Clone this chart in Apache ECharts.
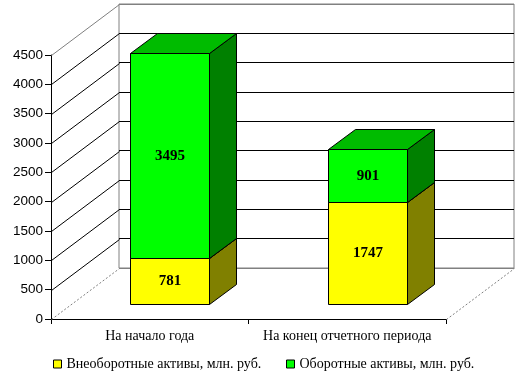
<!DOCTYPE html>
<html><head><meta charset="utf-8">
<script src="https://cdn.jsdelivr.net/npm/echarts@6/dist/echarts.min.js"></script>
<style>html,body{margin:0;padding:0;background:#fff}#c{width:523px;height:378px}</style>
</head><body><div id="c"></div>
<script>
const categories = ['На начало года', 'На конец отчетного периода'];
const seriesNames = ['Внеоборотные активы, млн. руб.', 'Оборотные активы, млн. руб.'];
const nonCurrent = [781, 1747];
const current = [3495, 901];
const yMin = 0, yMax = 4500, yStep = 500;
const yTicks = [0, 500, 1000, 1500, 2000, 2500, 3000, 3500, 4000, 4500];

// 3D geometry (pixels)
const DEPTH_X = 68, DEPTH_Y = 51;   // wall depth
const FRONT_X = 20, FRONT_Y = 15;   // bar front face offset from front plane
const BAR_DX = 27, BAR_DY = 20;     // bar depth
const SERIF = "'Liberation Serif','Times New Roman',serif";
const SANS = "'Liberation Sans',Arial,sans-serif";

const chart = echarts.init(document.getElementById('c'), null, {renderer: 'canvas'});

function r(v) { return Math.round(v) + 0.5; }

function barRenderer(face, side, top) {
  return function (params, api) {
    const i = api.value(0), base = api.value(1), v = api.value(2);
    const p0 = api.coord([i, base]);
    const p1 = api.coord([i, base + v]);
    const bw = api.size([1, 0])[0] * 0.4;
    const cx = p0[0] + FRONT_X;
    const yb = r(p0[1] - FRONT_Y), yt = r(p1[1] - FRONT_Y);
    const x0 = r(cx - bw / 2), x1 = r(cx + bw / 2);
    const st = {stroke: '#000', lineWidth: 1};
    return {
      type: 'group',
      children: [
        {type: 'polygon', shape: {points: [[x1, yb], [x1 + BAR_DX, yb - BAR_DY], [x1 + BAR_DX, yt - BAR_DY], [x1, yt]]},
         style: Object.assign({fill: side}, st)},
        {type: 'polygon', shape: {points: [[x0, yt], [x1, yt], [x1 + BAR_DX, yt - BAR_DY], [x0 + BAR_DX, yt - BAR_DY]]},
         style: Object.assign({fill: top}, st)},
        {type: 'rect', shape: {x: x0, y: yt, width: x1 - x0, height: yb - yt},
         style: Object.assign({fill: face}, st)},
        {type: 'text', x: (x0 + x1) / 2, y: (yt + yb) / 2,
         style: {text: String(v), fill: '#000', font: "bold 15px " + SERIF, align: 'center', verticalAlign: 'middle'}}
      ]
    };
  };
}

function wallRenderer(params, api) {
  const v = api.value(1);
  const cs = params.coordSys;
  const y = r(api.coord([0, v])[1]);
  const x = r(cs.x);
  let style;
  if (v === yMin) style = {stroke: '#808080', lineWidth: 1, lineDash: [2, 2]};
  else if (v === yMax) style = {stroke: '#808080', lineWidth: 1};
  else style = {stroke: '#000', lineWidth: 1};
  const children = [{type: 'line', shape: {x1: x, y1: y, x2: x + DEPTH_X, y2: y - DEPTH_Y}, style: style}];
  if (v === yMin) {
    const xr = r(cs.x + cs.width);
    children.push({type: 'line', shape: {x1: xr, y1: y, x2: xr + DEPTH_X, y2: y - DEPTH_Y}, style: style});
  }
  return {type: 'group', children: children};
}

const splitColors = yTicks.map((t) => (t === yMin || t === yMax) ? '#808080' : '#000000');

chart.setOption({
  backgroundColor: '#ffffff',
  animation: false,
  grid: [
    {left: 51, top: 55, width: 395, height: 264, show: false},
    {left: 51 + DEPTH_X, top: 55 - DEPTH_Y, width: 395, height: 264, show: true,
     borderColor: '#808080', borderWidth: 1, backgroundColor: 'transparent'}
  ],
  xAxis: [
    {type: 'category', gridIndex: 0, data: categories, boundaryGap: true,
     axisLine: {show: true, lineStyle: {color: '#000', width: 1}},
     axisTick: {show: true, length: 5, lineStyle: {color: '#000'}},
     axisLabel: {color: '#000', fontFamily: SERIF, fontSize: 14, margin: 10, interval: 0},
     splitLine: {show: false}},
    {type: 'value', gridIndex: 1, show: true, min: 0, max: 1,
     axisLine: {show: false}, axisTick: {show: false}, axisLabel: {show: false}, splitLine: {show: false}}
  ],
  yAxis: [
    {type: 'value', gridIndex: 0, min: yMin, max: yMax, interval: yStep,
     axisLine: {show: true, lineStyle: {color: '#000', width: 1}},
     axisTick: {show: true, length: 6, lineStyle: {color: '#000'}},
     axisLabel: {color: '#000', fontFamily: SANS, fontSize: 13.5, margin: 8, formatter: (v) => String(v)},
     splitLine: {show: false}},
    {type: 'value', gridIndex: 1, min: yMin, max: yMax, interval: yStep,
     axisLine: {show: false}, axisTick: {show: false}, axisLabel: {show: false},
     splitLine: {show: true, lineStyle: {color: splitColors, width: 1}}}
  ],
  legend: [
    {data: [seriesNames[0]], left: 48, top: 352, icon: 'rect', itemWidth: 8, itemHeight: 8,
     itemStyle: {borderColor: '#000', borderWidth: 1},
     textStyle: {color: '#000', fontFamily: SERIF, fontSize: 14}},
    {data: [seriesNames[1]], left: 281, top: 352, icon: 'rect', itemWidth: 8, itemHeight: 8,
     itemStyle: {borderColor: '#000', borderWidth: 1},
     textStyle: {color: '#000', fontFamily: SERIF, fontSize: 14}}
  ],
  series: [
    {type: 'custom', name: 'walls', xAxisIndex: 0, yAxisIndex: 0, z: 1, silent: true,
     renderItem: wallRenderer, encode: {x: 0, y: 1},
     data: yTicks.map((t) => [0, t])},
    {type: 'custom', name: seriesNames[0], xAxisIndex: 0, yAxisIndex: 0, z: 3,
     itemStyle: {color: '#FFFF00'},
     renderItem: barRenderer('#FFFF00', '#808000', '#C0C000'), encode: {x: 0, y: 2},
     data: nonCurrent.map((v, i) => [i, 0, v])},
    {type: 'custom', name: seriesNames[1], xAxisIndex: 0, yAxisIndex: 0, z: 4,
     itemStyle: {color: '#00FF00'},
     renderItem: barRenderer('#00FF00', '#008000', '#00BB00'), encode: {x: 0, y: 2},
     data: current.map((v, i) => [i, nonCurrent[i], v])}
  ]
});
</script></body></html>
